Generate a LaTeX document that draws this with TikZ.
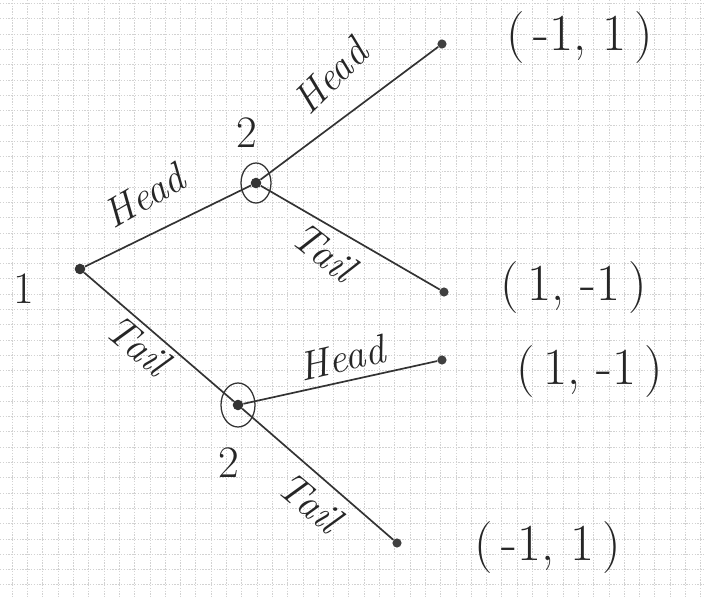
\documentclass[tikz,border=0pt]{standalone}
\usetikzlibrary{positioning}
\begin{document}
\begin{tikzpicture}[
  x=0.025cm, y=-0.025cm,
  branch/.style={draw=black!80, line width=1.2pt},
  move/.style={circle, fill=black!80, inner sep=0pt, minimum size=7.5pt},
  leaf/.style={circle, fill=black!75, inner sep=0pt, minimum size=6.5pt},
  ring/.style={draw=black!80, line width=0.9pt},
  act/.style={text=black!85, font=\fontsize{29}{34}\selectfont\itshape},
  plr/.style={text=black!85, font=\fontsize{32}{36}\selectfont},
  pay/.style={text=black!85, font=\fontsize{37}{42}\selectfont}
]
  \useasboundingbox[fill=white] (0,0) rectangle (704,597);
  % squared paper
  \foreach \gx in {12.1,27.4,...,704}
    \draw[gray!35, line width=0.4pt, dash pattern=on 1pt off 1pt] (\gx,0) -- (\gx,597);
  \foreach \gy in {3.3,18.6,...,597}
    \draw[gray!35, line width=0.4pt, dash pattern=on 1pt off 1pt] (0,\gy) -- (704,\gy);

  % decision nodes
  \node[move] (root) at (80,269) {};
  \node[move] (upper) at (256,183) {};
  \node[move] (lower) at (238,405) {};
  \draw[ring] (upper) ellipse [x radius=15, y radius=20];
  \draw[ring] (lower) ellipse [x radius=17, y radius=22];

  % end nodes
  \node[leaf] (uh) at (442,44) {};
  \node[leaf] (ut) at (444,292) {};
  \node[leaf] (lh) at (442,360) {};
  \node[leaf] (lt) at (397,543) {};

  \draw[branch] (root) -- (upper);
  \draw[branch] (root) -- (lower);
  \draw[branch] (upper) -- (uh);
  \draw[branch] (upper) -- (ut);
  \draw[branch] (lower) -- (lh);
  \draw[branch] (lower) -- (lt);

  % players
  \node[plr] (p1) at (24,289) {1};
  \node[plr] (p2up) at (247,133) {2};
  \node[plr] (p2low) at (229,463) {2};

  % moves
  \node[act, rotate=30] (headA) at (144,196) {Head};
  \node[act, rotate=45] (headB) at (330,76) {Head};
  \node[act, rotate=-38] (tailB) at (324,252) {Tail};
  \node[act, rotate=-40] (tailA) at (138,345) {Tail};
  \node[act, rotate=13] (headC) at (342,358) {Head};
  \node[act, rotate=-40] (tailC) at (310,502) {Tail};

  % payoffs
  \node[pay] (payuh) at (580,38) {(\,-1, 1\,)};
  \node[pay] (payut) at (574,288) {(\,1, -1\,)};
  \node[pay] (paylh) at (590,372) {(\,1, -1\,)};
  \node[pay] (paylt) at (548,548) {(\,-1, 1\,)};
\end{tikzpicture}
\end{document}
